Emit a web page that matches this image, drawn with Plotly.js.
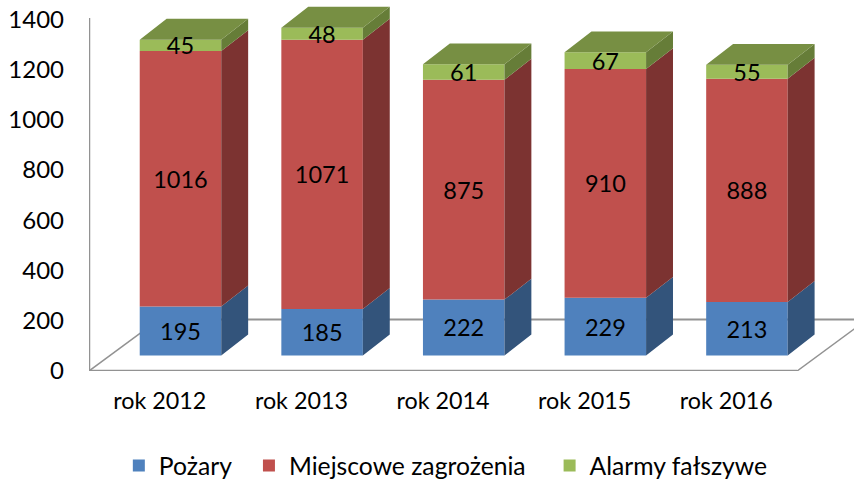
<!DOCTYPE html>
<html><head><meta charset="utf-8">
<script src="https://cdn.plot.ly/plotly-3.0.1.min.js"></script>
<style>html,body{margin:0;padding:0;background:#fff;overflow:hidden}</style>
</head><body><div id="chart" style="width:854px;height:479px"></div>
<script>
const categories = ['rok 2012','rok 2013','rok 2014','rok 2015','rok 2016'];
const pozary = [195,185,222,229,213];
const miejscowe = [1016,1071,875,910,888];
const alarmy = [45,48,61,67,55];
const seriesNames = ['Pożary','Miejscowe zagrożenia','Alarmy fałszywe'];
const yTicks = [0,200,400,600,800,1000,1200,1400];

const FRONT = ['#4f81bd','#c0504d','#9bbb59'];
const SIDE = ['#33547b','#7c3331','#667d38'];
const TOP = '#778f43';
const FONT = 'Lato, Carlito, sans-serif';
const PAD = ['\u00a0\u00a0','\u00a0\u00a0\u00a0',''];
const barW = 0.5756, barOff = 0.146, baseY = 62, depX = 0.19, depY = 83, labelShift = -12;
const floorX = 0.494, floorY = 205, xMax = 4.902, yMax = 1476;

const xs = categories.map((_, i) => i + barOff);
const series = [pozary, miejscowe, alarmy];
let cum = categories.map(() => baseY);
const traces = [], sideTraces = [], labelX = [], labelY = [], labelT = [];
series.forEach((vals, s) => {
  const bases = cum.slice();
  traces.push({type:'bar', name:seriesNames[s] + PAD[s], x:xs, y:vals, base:bases, width:barW,
    marker:{color:FRONT[s], line:{width:0}}, hoverinfo:'skip'});
  const sx = [], sy = [];
  vals.forEach((v, i) => {
    const r = xs[i] + barW/2, b = bases[i], t = b + v;
    sx.push(r, r+depX, r+depX, r, r, null);
    sy.push(b, b+depY, t+depY, t, b, null);
    labelX.push(xs[i]); labelY.push(b + v/2 + labelShift); labelT.push(String(v));
  });
  sideTraces.push({type:'scatter', mode:'none', x:sx, y:sy, fill:'toself', fillcolor:SIDE[s],
    showlegend:false, hoverinfo:'skip'});
  cum = bases.map((b, i) => b + vals[i]);
});
const tx = [], ty = [];
cum.forEach((t, i) => {
  const l = xs[i] - barW/2, r = xs[i] + barW/2;
  tx.push(l, r, r+depX, l+depX, l, null);
  ty.push(t, t, t+depY, t+depY, t, null);
});
const topTrace = {type:'scatter', mode:'none', x:tx, y:ty, fill:'toself', fillcolor:TOP, showlegend:false, hoverinfo:'skip'};
const labelTrace = {type:'scatter', mode:'text', x:labelX, y:labelY, text:labelT,
  textposition:'middle center', textfont:{family:FONT, size:23.5, color:'#000'}, showlegend:false, hoverinfo:'skip', cliponaxis:false};

const gray = '#929292';
const line = (x0,y0,x1,y1,w) => ({type:'line', layer:'below', xref:'x', yref:'y', x0,y0,x1,y1, line:{color:gray, width:w}});
const shapes = [
  line(-0.5,0,-0.5,1404,2.5),
  line(-0.5,0,4.5,0,2.5),
  line(-0.5,0,-0.5+floorX,floorY,1.5),
  line(-0.5+floorX,floorY,xMax,floorY,2),
  line(4.5,0,4.5+floorX,floorY,1.5)
];

Plotly.newPlot('chart', [...sideTraces, topTrace, ...traces, labelTrace], {
  width:854, height:479,
  margin:{l:89, r:0, t:0, b:108, pad:0, autoexpand:false},
  paper_bgcolor:'#fff', plot_bgcolor:'rgba(0,0,0,0)',
  barmode:'overlay',
  shapes,
  font:{family:FONT, size:23, color:'#000'},
  xaxis:{type:'linear', range:[-0.5,xMax], tickmode:'array', tickvals:categories.map((_,i)=>i), ticktext:categories,
    showgrid:false, zeroline:false, showline:false, ticks:'', ticklabelstandoff:14, tickfont:{family:FONT,size:23.3,color:'#000'}, fixedrange:true},
  yaxis:{range:[0,yMax], tickmode:'array', tickvals:yTicks, ticktext:yTicks.map(String),
    showgrid:false, zeroline:false, showline:false, ticks:'', ticklabelstandoff:24, tickfont:{family:FONT,size:24,color:'#000'}, fixedrange:true},
  legend:{orientation:'h', x:0.039, xanchor:'left', y:-0.256, yanchor:'middle', font:{family:FONT,size:24.7,color:'#000'},
    bgcolor:'rgba(0,0,0,0)', traceorder:'normal', itemclick:false, itemdoubleclick:false},
  showlegend:true
}, {displayModeBar:false, staticPlot:true});
</script></body></html>
